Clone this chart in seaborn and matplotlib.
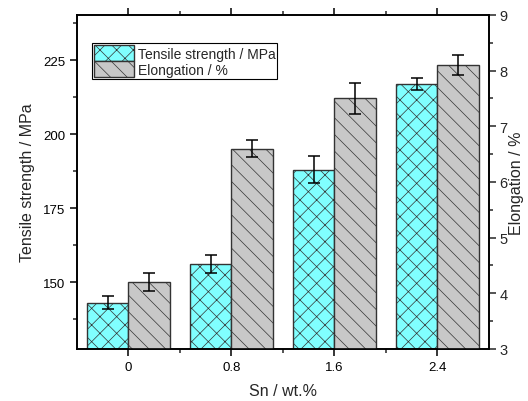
import numpy as np
import pandas as pd
import matplotlib
matplotlib.use('Agg')
import matplotlib.pyplot as plt
from matplotlib.ticker import MultipleLocator, FixedLocator
from matplotlib.patches import Patch
import seaborn as sns

# Datos
sn_labels = ['0', '0.8', '1.6', '2.4']
tensile = [143, 156, 188, 217]
tensile_err = [2.2, 3.0, 4.6, 2.0]
elongation = [4.2, 6.6, 7.5, 8.1]
elongation_err = [0.16, 0.16, 0.27, 0.18]
series = ['Tensile strength / MPa', 'Elongation / %']

sns.set_style('ticks')
plt.rcParams['font.family'] = ['Liberation Sans', 'DejaVu Sans']
plt.rcParams['hatch.linewidth'] = 0.5

CYAN = '#80FFFF'
GRIS = '#C8C8C8'
BORDE = '#333333'

df_t = pd.DataFrame({'sn': sn_labels * 2,
                     'serie': [series[0]] * 4 + [series[1]] * 4,
                     'valor': tensile + [np.nan] * 4})
df_e = pd.DataFrame({'sn': sn_labels * 2,
                     'serie': [series[0]] * 4 + [series[1]] * 4,
                     'valor': [np.nan] * 4 + elongation})

fig = plt.figure(figsize=(5.28, 4.02), dpi=100)
ax = fig.add_axes([0.1458, 0.1294, 0.7802, 0.8308])
ax2 = ax.twinx()

paleta = {series[0]: CYAN, series[1]: GRIS}
for eje, datos in ((ax, df_t), (ax2, df_e)):
    sns.barplot(data=datos, x='sn', y='valor', hue='serie', hue_order=series,
                order=sn_labels, palette=paleta, saturation=1, errorbar=None,
                width=0.8, edgecolor=BORDE, linewidth=1, ax=eje, legend=False)


def _centros(eje):
    centros = []
    for p in eje.patches:
        h = p.get_height()
        if not np.isnan(h) and h != 0:
            centros.append(p.get_x() + p.get_width() / 2)
    return sorted(centros)


for p in ax.patches:
    p.set_hatch('xx')
for p in ax2.patches:
    p.set_hatch('\\\\')

ax.errorbar(_centros(ax), tensile, yerr=tensile_err, fmt='none', ecolor='black',
            elinewidth=1.1, capsize=4, capthick=1.1, zorder=5)
ax2.errorbar(_centros(ax2), elongation, yerr=elongation_err, fmt='none',
             ecolor='black', elinewidth=1.1, capsize=4, capthick=1.1, zorder=5)

ax.set_xlim(-0.5, 3.5)
ax.set_ylim(127.4, 240.2)
ax2.set_ylim(3, 9)

ax.yaxis.set_major_locator(FixedLocator([150, 175, 200, 225]))
ax.yaxis.set_minor_locator(FixedLocator([137.5, 162.5, 187.5, 212.5, 237.5]))
ax2.yaxis.set_major_locator(MultipleLocator(1))
ax2.yaxis.set_minor_locator(MultipleLocator(0.5))
ax.xaxis.set_minor_locator(FixedLocator([0.5, 1.5, 2.5]))

for eje in (ax, ax2):
    for s in eje.spines.values():
        s.set_visible(True)
        s.set_linewidth(1.2)
        s.set_color('black')

ax.tick_params(axis='both', which='major', direction='out', length=5,
               width=1.1, labelsize=9.5, colors='black')
ax.tick_params(axis='both', which='minor', direction='out', length=3, width=1.1)
ax.tick_params(axis='x', which='both', top=True)
ax2.tick_params(axis='y', which='major', direction='out', length=5,
                width=1.1, labelsize=10.5, pad=2.5)
ax2.tick_params(axis='y', which='minor', direction='out', length=3, width=1.1)

ax.set_xlabel('Sn / wt.%', fontsize=11.5, labelpad=7)
ax.set_ylabel('Tensile strength / MPa', fontsize=11.5, labelpad=6)
ax2.set_ylabel('Elongation / %', fontsize=11.5, labelpad=1)

handles = [Patch(facecolor=CYAN, edgecolor=BORDE, hatch='xx', label=series[0]),
           Patch(facecolor=GRIS, edgecolor=BORDE, hatch='\\\\', label=series[1])]
leg = ax.legend(handles=handles, loc='upper left', bbox_to_anchor=(0.036, 0.915),
                fontsize=10, frameon=True, fancybox=False, framealpha=1,
                edgecolor='black', handlelength=2.9, handleheight=1.3,
                handletextpad=0.25, borderpad=0.15, labelspacing=0.05,
                borderaxespad=0)
leg.get_frame().set_linewidth(0.8)

fig.savefig('out.png', dpi=100)
